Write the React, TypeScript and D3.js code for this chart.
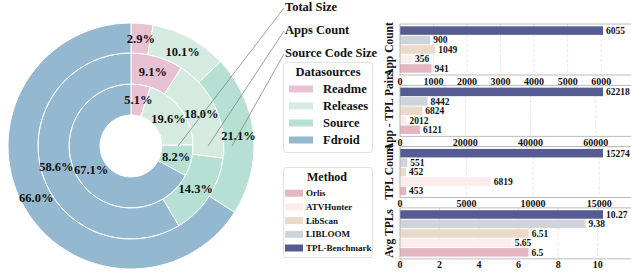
import React from "react";
import * as d3 from "d3";

// donut data (percent), inner -> outer ring
const sources = ["Readme", "Releases", "Source", "Fdroid"];
const sourceColors = ["#e8c1d3", "#d6ebe0", "#b6e0d4", "#94b8d0"];
const ringNames = ["Total Size", "Apps Count", "Source Code Size"];
const totalSize = [5.1, 19.6, 8.2, 67.1];
const appsCount = [9.1, 18.0, 14.3, 58.6];
const sourceCodeSize = [2.9, 10.1, 21.1, 66.0];

// bar data, bottom -> top
const methods = ["Orlis", "ATVHunter", "LibScan", "LIBLOOM", "TPL-Benchmark"];
const methodColors = ["#e4b6c1", "#fcedec", "#ebd9c9", "#ced4da", "#565b91"];
const panelLabels = ["App Count", "App - TPL Pairs", "TPL Count", "Avg TPLs"];
const appCount = [941, 356, 1049, 900, 6055];
const tplPairs = [6121, 2012, 6824, 8442, 62218];
const tplCount = [453, 6819, 452, 551, 15274];
const avgTpls = [6.5, 5.65, 6.51, 9.38, 10.27];
const appCountTicks = [0, 1000, 2000, 3000, 4000, 5000, 6000];
const tplPairsTicks = [0, 20000, 40000, 60000];
const tplCountTicks = [0, 5000, 10000, 15000];
const avgTplsTicks = [0, 2, 4, 6, 8, 10];

const font = "'Liberation Serif', 'Times New Roman', serif";

const Donut = () => {
  const cx = 131;
  const cy = 146;
  const rings = [totalSize, appsCount, sourceCodeSize];
  const radii = [31, 62, 93, 123];
  const anchorR = [47, 77, 101];
  const textY = [7, 30, 53];
  const pie = d3.pie<number>().sort(null).value((d) => d);
  return (
    <g>
      <g transform={`translate(${cx},${cy})`}>
        {rings.map((vals, ri) => {
          const arc = d3.arc<d3.PieArcDatum<number>>().innerRadius(radii[ri]).outerRadius(radii[ri + 1]);
          return pie(vals).map((a, i) => (
            <path key={`${ri}-${i}`} d={arc(a) || ""} fill={sourceColors[i]} stroke="#fff" strokeWidth={1} />
          ));
        })}
        {rings.map((vals, ri) => {
          const arc = d3.arc<d3.PieArcDatum<number>>().innerRadius(radii[ri]).outerRadius(radii[ri + 1]);
          return pie(vals).map((a, i) => {
            const [x, y] = arc.centroid(a);
            return (
              <text key={`t${ri}-${i}`} x={x} y={y} dy="0.35em" textAnchor="middle"
                fontFamily={font} fontWeight="bold" fontSize={12.5} fill="#111">
                {vals[i].toFixed(1)}%
              </text>
            );
          });
        })}
      </g>
      {ringNames.map((n, i) => (
        <g key={n}>
          <line x1={cx + anchorR[i]} y1={cy} x2={284} y2={textY[i] + 1} stroke="#777" strokeWidth={0.7} />
          <text x={285} y={textY[i]} dy="0.35em" fontFamily={font} fontWeight="bold" fontSize={12.5} fill="#111">
            {n}
          </text>
        </g>
      ))}
    </g>
  );
};

const Legends = () => (
  <g fontFamily={font} fontWeight="bold" fill="#111">
    <rect x={283.5} y={62.5} width={89} height={90} rx={3} fill="#fff" stroke="#e2e2e2" />
    <text x={328} y={72} dy="0.35em" textAnchor="middle" fontSize={12.5}>Datasources</text>
    {sources.map((s, i) => (
      <g key={s} transform={`translate(0,${89 + i * 17})`}>
        <rect x={289} y={-3.5} width={24} height={7} fill={sourceColors[i]} />
        <text x={323} y={0} dy="0.35em" fontSize={12.5}>{s}</text>
      </g>
    ))}
    <rect x={283.5} y={167.5} width={89} height={90} rx={3} fill="#fff" stroke="#e2e2e2" />
    <text x={327} y={177} dy="0.35em" textAnchor="middle" fontSize={12}>Method</text>
    {methods.slice().reverse().map((m, k) => {
      const i = methods.length - 1 - k;
      return (
        <g key={m} transform={`translate(0,${248 - k * 13.7})`}>
          <rect x={285} y={-3.5} width={18} height={7} fill={methodColors[i]} />
          <text x={306} y={0} dy="0.35em" fontSize={9}>{m}</text>
        </g>
      );
    })}
  </g>
);

const BarPanel = ({ values, ticks, label, top }: { values: number[]; ticks: number[]; label: string; top: number }) => {
  const left = 400;
  const h = 51;
  const maxV = d3.max(values) as number;
  const x = d3.scaleLinear().domain([0, maxV * 1.15]).range([left, left + 203 * 1.15]);
  const y = d3.scaleLinear().domain([-0.695, 4.695]).range([top + h, top]);
  const bh = y(0) - y(0.9);
  return (
    <g fontFamily={font} fontWeight="bold" fill="#111">
      {ticks.map((t) => (
        <line key={t} x1={x(t)} x2={x(t)} y1={top} y2={top + h} stroke="#ddd" strokeWidth={0.7} strokeDasharray="3,2" />
      ))}
      {values.map((v, i) => (
        <g key={i}>
          <rect x={x(0)} y={y(i) - bh / 2} width={x(v) - x(0)} height={bh} fill={methodColors[i]} />
          <text x={x(v) + 3} y={y(i)} dy="0.35em" fontSize={9.5}>{String(v)}</text>
        </g>
      ))}
      <rect x={left} y={top} width={x.range()[1] - left} height={h} fill="none" stroke="#aaa" strokeWidth={0.8} />
      {ticks.map((t) => (
        <text key={t} x={x(t)} y={top + h + 6} dy="0.35em" textAnchor="middle" fontSize={10}>{String(t)}</text>
      ))}
      <text transform={`translate(389,${top + h / 2}) rotate(-90)`} textAnchor="middle" dy="0.35em" fontSize={11.5}>
        {label}
      </text>
    </g>
  );
};

const App = () => {
  const data = [appCount, tplPairs, tplCount, avgTpls];
  const ticks = [appCountTicks, tplPairsTicks, tplCountTicks, avgTplsTicks];
  return (
    <svg width={631} height={275} style={{ position: "fixed", left: 0, top: 0, background: "#fff" }}>
      <Donut />
      <Legends />
      {data.map((vals, i) => (
        <BarPanel key={i} values={vals} ticks={ticks[i]} label={panelLabels[i]} top={24 + i * 61.3} />
      ))}
    </svg>
  );
};

export default App;
